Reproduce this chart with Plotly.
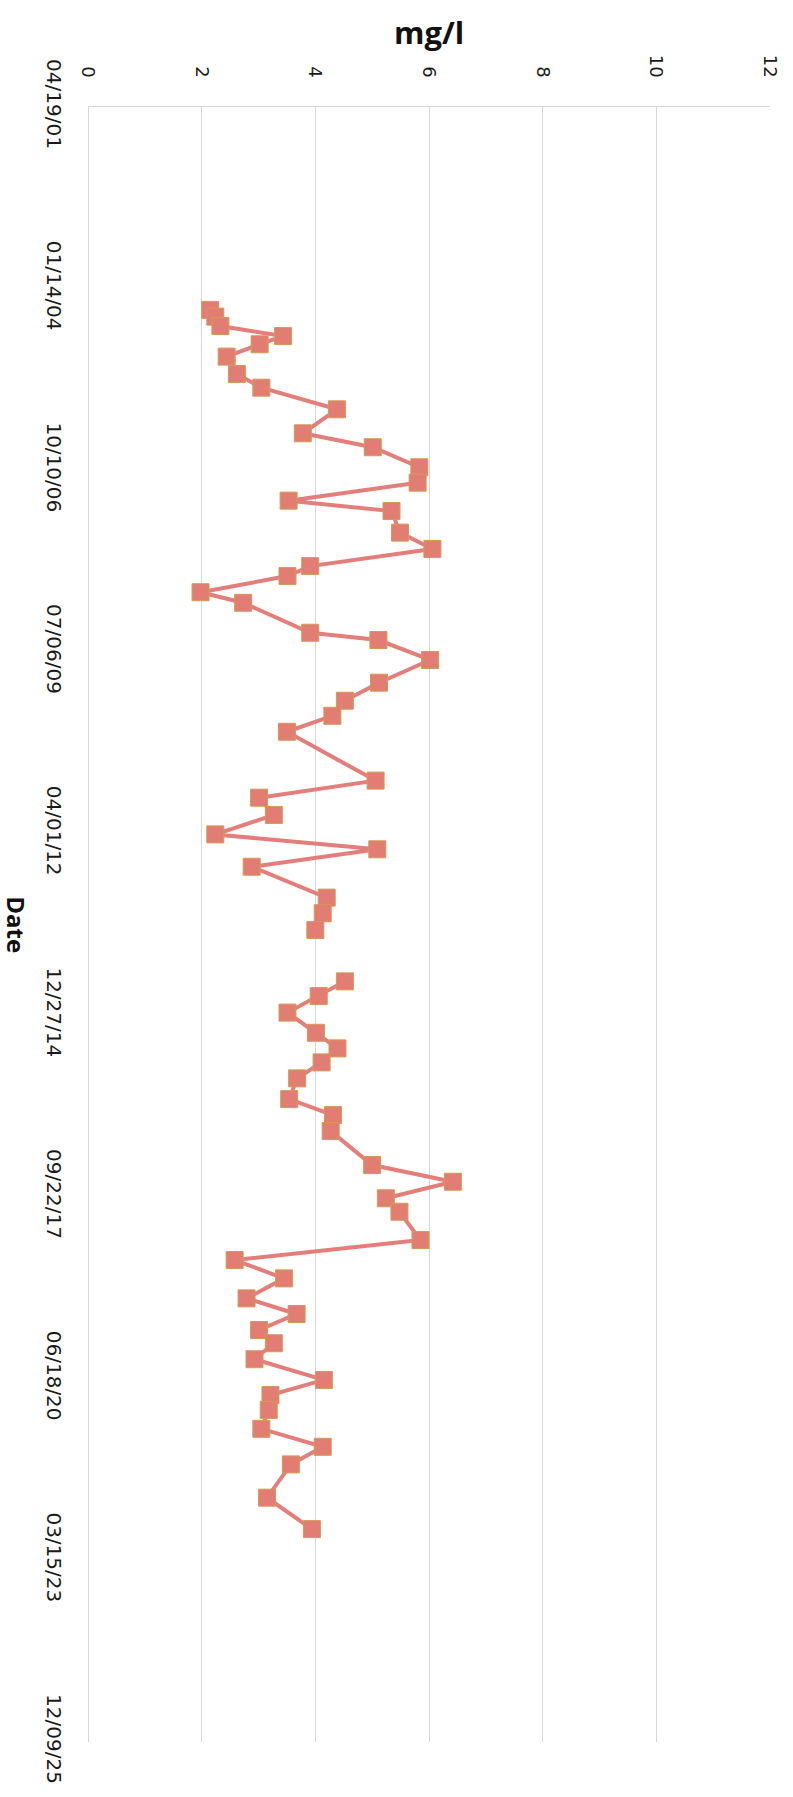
import plotly.graph_objects as go

# Sample dates and measured concentrations (mg/l)
dates = [
    "2004-05-10", "2004-06-16", "2004-08-07", "2004-10-01", "2004-11-15",
    "2005-01-22", "2005-04-28", "2005-07-12", "2005-11-08", "2006-03-20",
    "2006-06-05", "2006-09-23", "2006-12-17", "2007-03-26", "2007-05-22",
    "2007-09-18", "2007-12-17", "2008-03-20", "2008-05-14", "2008-08-11",
    "2008-10-08", "2009-03-22", "2009-05-01", "2009-08-19", "2009-12-22",
    "2010-03-31", "2010-06-22", "2010-09-18", "2011-06-14", "2011-09-16",
    "2011-12-20", "2012-04-05", "2012-06-26", "2012-09-30", "2013-03-19",
    "2013-06-13", "2013-09-13", None,
    "2014-06-23", "2014-09-12", "2014-12-12", "2015-04-02", "2015-06-27",
    "2015-09-12", "2015-12-09", "2016-04-01", "2016-06-28", "2016-09-24",
    "2017-03-30", "2017-06-30", "2017-09-29", "2017-12-12", "2018-05-17",
    "2018-09-04", "2018-12-14", "2019-04-03", "2019-06-28", "2019-09-24",
    "2019-12-06", "2020-03-03", "2020-06-25", "2020-09-16", "2020-12-07",
    "2021-03-21", "2021-06-28", "2021-10-03", "2022-04-04", "2022-09-24",
]
values = [
    2.15, 2.24, 2.33, 3.43, 3.02,
    2.44, 2.62, 3.05, 4.38, 3.78,
    5.01, 5.83, 5.80, 3.53, 5.34,
    5.49, 6.06, 3.91, 3.51, 1.98,
    2.73, 3.91, 5.11, 6.02, 5.12,
    4.52, 4.30, 3.50, 5.06, 3.01,
    3.27, 2.24, 5.09, 2.88, 4.20,
    4.13, 4.00, None,
    4.52, 4.06, 3.51, 4.01, 4.39,
    4.11, 3.68, 3.54, 4.31, 4.27,
    5.00, 6.42, 5.24, 5.48, 5.85,
    2.58, 3.45, 2.79, 3.67, 3.01,
    3.27, 2.93, 4.15, 3.21, 3.18,
    3.05, 4.13, 3.57, 3.15, 3.94,
]

date_start = "2001-04-19"
date_end = "2025-12-09"
date_step_days = 1000
value_range = [0, 12]
value_step = 2

axis_font = dict(family="DejaVu Sans", size=20, color="#1a1a1a")
title_font = dict(family="Open Sans", size=31, color="#111111")
grid_color = "#d6d6d6"

fig = go.Figure()
fig.add_trace(go.Scatter(
    x=values,
    y=dates,
    mode="lines+markers",
    connectgaps=False,
    line=dict(color="#E47E7A", width=4),
    marker=dict(symbol="square", size=17, color="#E27D74",
                line=dict(color="#D39A55", width=1)),
    showlegend=False,
))

fig.update_layout(
    width=793,
    height=1797,
    margin=dict(l=88, r=21, t=107, b=55),
    paper_bgcolor="white",
    plot_bgcolor="white",
    xaxis=dict(
        side="top",
        range=value_range,
        dtick=value_step,
        tick0=0,
        tickangle=90,
        tickfont=dict(family="DejaVu Sans", size=18, color="#1a1a1a"),
        ticklabelstandoff=22,
        showgrid=True,
        gridcolor=grid_color,
        gridwidth=1,
        zeroline=True,
        zerolinecolor=grid_color,
        zerolinewidth=1,
        showline=True,
        linecolor=grid_color,
        linewidth=1,
        ticks="",
    ),
    yaxis=dict(
        type="date",
        range=[date_end, date_start],
        tick0=date_start,
        dtick=date_step_days * 86400000,
        tickformat="%m/%d/%y",
        tickangle=90,
        tickfont=axis_font,
        ticklabelstandoff=20,
        showgrid=False,
        zeroline=False,
        showline=False,
        ticks="",
    ),
    annotations=[
        dict(text="<b>mg/l</b>", x=0.5, xref="paper", y=1.0, yref="paper",
             showarrow=False, font=title_font, xanchor="center", yanchor="middle"),
        dict(text="<b>Date</b>", x=0.0, xref="paper", y=0.5, yref="paper",
             showarrow=False, font=dict(family="Open Sans", size=24, color="#111111"),
             textangle=90, xanchor="center", yanchor="middle"),
    ],
)

# Place the titles in pixel terms relative to the plotting area
plot_w = 793 - 88 - 21
plot_h = 1797 - 107 - 55
fig.layout.annotations[0].y = 1 + (107 - 32) / plot_h
fig.layout.annotations[1].x = -(88 - 16) / plot_w

fig.write_html("out.html")
